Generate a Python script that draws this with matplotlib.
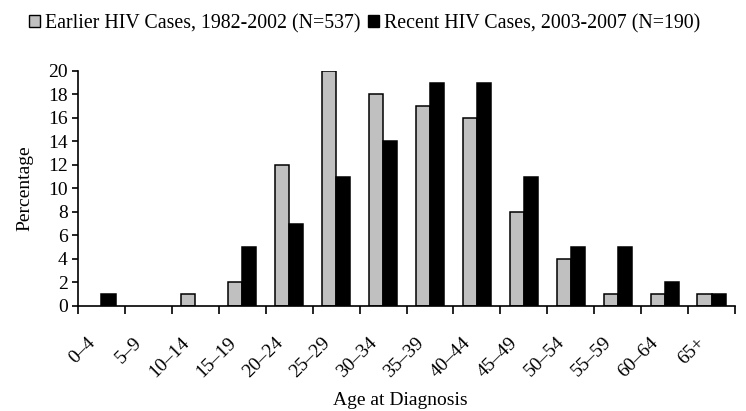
import numpy as np
import matplotlib
matplotlib.use("Agg")
import matplotlib.pyplot as plt
import matplotlib.transforms as mtransforms
from matplotlib.patches import Patch

plt.rcParams['font.family'] = ['Liberation Serif', 'DejaVu Serif']

age_groups = ["0\u20134", "5\u20139", "10\u201314", "15\u201319", "20\u201324", "25\u201329", "30\u201334",
              "35\u201339", "40\u201344", "45\u201349", "50\u201354", "55\u201359", "60\u201364", "65+"]
earlier = [0, 0, 1, 2, 12, 20, 18, 17, 16, 8, 4, 1, 1, 1]
recent = [1, 0, 0, 5, 7, 11, 14, 19, 19, 11, 5, 5, 2, 1]
earlier_label = "Earlier HIV Cases, 1982-2002 (N=537)"
recent_label = "Recent HIV Cases, 2003-2007 (N=190)"

fig = plt.figure(figsize=(7.46, 4.11), dpi=100)
ax = fig.add_axes([0.1046, 0.2555, 0.8807, 0.5718])

x = np.arange(len(age_groups))
w = 0.3
# no outline on empty bars
lw_e = [1.1 if v > 0 else 0 for v in earlier]
lw_r = [1.1 if v > 0 else 0 for v in recent]
ax.bar(x - w / 2, earlier, w, color="#c0c0c0", edgecolor="black", linewidth=lw_e)
ax.bar(x + w / 2, recent, w, color="black", edgecolor="black", linewidth=lw_r)

ax.set_xlim(-0.5, len(age_groups) - 0.5)
ax.set_ylim(0, 20)
ax.set_yticks(range(0, 21, 2))
# ticks between categories, labels drawn as text
ax.set_xticks(np.arange(len(age_groups) + 1) - 0.5)
ax.set_xticklabels([])
offset = mtransforms.ScaledTranslation(-15 / 100, -28 / 100, fig.dpi_scale_trans)
for i, lab in enumerate(age_groups):
    ax.text(x[i], 0, lab, transform=ax.get_xaxis_transform() + offset, rotation=45,
            ha="right", va="top", rotation_mode="anchor", fontsize=14)
ax.tick_params(axis="x", length=6, direction="out", width=1.2)
ax.tick_params(axis="y", length=4.5, direction="out", width=1.2, labelsize=14, pad=3)
for s in ["top", "right"]:
    ax.spines[s].set_visible(False)
for s in ["left", "bottom"]:
    ax.spines[s].set_linewidth(1.2)

ax.set_ylabel("Percentage", fontsize=14)
ax.yaxis.set_label_coords(-0.068, 0.5)
ax.set_xlabel("Age at Diagnosis", fontsize=14)
ax.xaxis.set_label_coords(0.49, -0.367)

handles = [Patch(facecolor="#c0c0c0", edgecolor="black", label=earlier_label),
           Patch(facecolor="black", edgecolor="black", label=recent_label)]
fig.legend(handles=handles, loc="upper left", bbox_to_anchor=(0.02, 1.0), ncol=2, frameon=False,
           fontsize=14.3, handlelength=0.55, handleheight=0.55, handletextpad=0.25, columnspacing=0.4,
           borderaxespad=0.3)

plt.savefig("out.png", dpi=100)
